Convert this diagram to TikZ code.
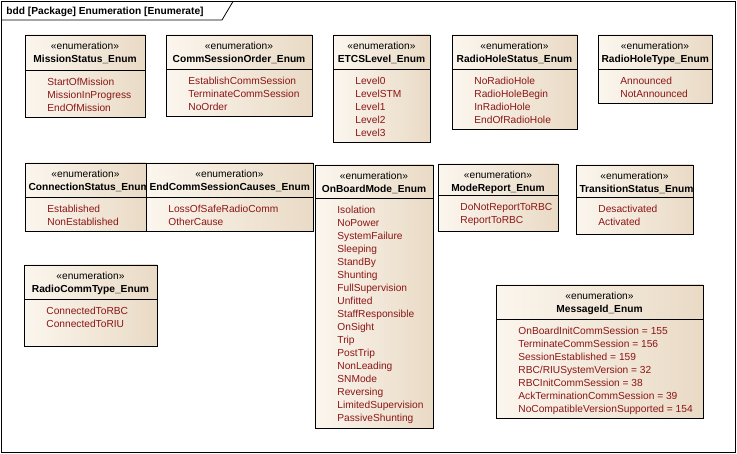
\documentclass[tikz,border=0pt]{standalone}
\usepackage{fontspec}
\setmainfont{Liberation Sans}
\usetikzlibrary{positioning}

\definecolor{enumlight}{RGB}{251,246,238}
\definecolor{enumdark}{RGB}{233,218,197}
\definecolor{enumred}{RGB}{140,22,22}

% one enumeration box: [name opts]{id}{left}{top}{right}{bottom}{divider}{name}{literals}
\newcommand\enumbox[9][]{%
  \pgfmathsetmacro\enumcx{(#3+#5)/2}%
  \pgfmathsetmacro\enumcy{(#4+#6)/2}%
  \pgfmathsetmacro\enumw{#5-#3}%
  \pgfmathsetmacro\enumh{#6-#4}%
  \pgfmathsetmacro\enumtw{#5-#3-7}%
  \node[enumbox,minimum width=\enumw pt,minimum height=\enumh pt] (#2) at (\enumcx,\enumcy) {};
  \begin{scope}
    \clip (#3,#4) rectangle (#5,#6);
    \node[enumstereo] (#2-st) at (\enumcx,#4+15) {«enumeration»};
    \node[enumname,text width=\enumtw pt,#1] (#2-name) at (\enumcx,#4+28) {\mbox{#8}};
    \foreach \lit [count=\n] in {#9}
      \node[enumlit] (#2-l\n) at (#3+22,#7+3+13*\n) {\lit};
  \end{scope}
  \draw (#3,#7) -- (#5,#7);
  \draw (#3,#4) rectangle (#5,#6);
}

\begin{document}
\begin{tikzpicture}
[x=1pt,y=-1pt,line width=0.8pt,%
  enumbox/.style={draw,rectangle,inner sep=0pt,outer sep=0pt,left color=enumlight,right color=enumdark},%
  enumstereo/.style={font=\fontsize{10.2}{13}\selectfont,inner sep=0pt,anchor=base},%
  enumname/.style={font=\fontsize{10.2}{13}\selectfont\bfseries,inner sep=0pt,anchor=base,align=center},%
  enumlit/.style={font=\fontsize{10.2}{13}\selectfont,text=enumred,inner sep=0pt,anchor=base west},%
  frametitle/.style={font=\fontsize{10.2}{13}\selectfont\bfseries,inner sep=0pt,anchor=base west}]
\useasboundingbox (0,0) rectangle (737,454);

% frame
\draw (1.5,1.5) rectangle (735.5,452.5);
\draw (1.5,20) -- (222,20) -- (233,1.5);
\node[frametitle] (title) at (6,15) {bdd [Package] Enumeration [Enumerate]};

% first row
\enumbox{mission}{25}{35}{145}{117}{70}{MissionStatus\_Enum}{StartOfMission,MissionInProgress,EndOfMission}
\enumbox{commorder}{166}{35}{312}{116}{69}{CommSessionOrder\_Enum}{EstablishCommSession,TerminateCommSession,NoOrder}
\enumbox{etcs}{333}{35}{430}{142}{69}{ETCSLevel\_Enum}{Level0,LevelSTM,Level1,Level2,Level3}
\enumbox{holestatus}{452}{35}{577}{129}{69}{RadioHoleStatus\_Enum}{NoRadioHole,RadioHoleBegin,InRadioHole,EndOfRadioHole}
\enumbox{holetype}{598}{35}{712}{103}{69}{RadioHoleType\_Enum}{Announced,NotAnnounced}

% second row
\enumbox{connstatus}{25}{163}{146}{231}{197}{ConnectionStatus\_Enum}{Established,NonEstablished}
\enumbox{endcause}{146}{163}{313}{231}{197}{EndCommSessionCauses\_Enum}{LossOfSafeRadioComm,OtherCause}
\enumbox{onboard}{315}{165}{433}{428}{198}{OnBoardMode\_Enum}{Isolation,NoPower,SystemFailure,Sleeping,StandBy,Shunting,FullSupervision,Unfitted,StaffResponsible,OnSight,Trip,PostTrip,NonLeading,SNMode,Reversing,LimitedSupervision,PassiveShunting}
\enumbox{modereport}{438}{164}{558}{231}{195}{ModeReport\_Enum}{DoNotReportToRBC,ReportToRBC}
\enumbox{transition}{576}{165}{693}{234}{197}{TransitionStatus\_Enum}{Desactivated,Activated}

% third row
\enumbox{radiocomm}{24}{265}{157}{346}{299}{RadioCommType\_Enum}{ConnectedToRBC,ConnectedToRIU}
\enumbox{messageid}{496}{285}{703}{418}{319}{MessageId\_Enum}{OnBoardInitCommSession = 155,TerminateCommSession = 156,SessionEstablished = 159,RBC/RIUSystemVersion = 32,RBCInitCommSession = 38,AckTerminationCommSession = 39,NoCompatibleVersionSupported = 154}
\end{tikzpicture}
\end{document}
